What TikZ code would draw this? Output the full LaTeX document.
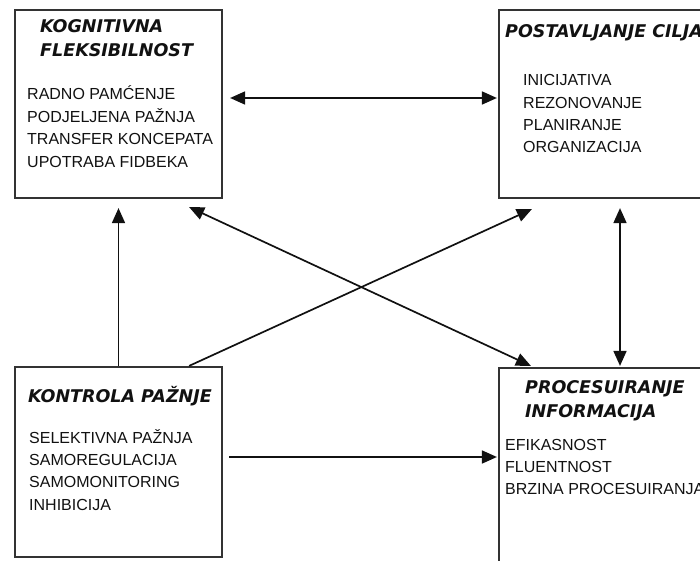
\documentclass[tikz,border=0pt]{standalone}
\usepackage{fontspec}
\setmainfont{Liberation Sans}
\newfontfamily\headfont{DejaVu Sans}
\usepackage{xcolor}
\definecolor{ink}{HTML}{111111}
\definecolor{frame}{HTML}{333333}
\usetikzlibrary{arrows.meta,calc}
\tikzset{
  box/.style={draw=frame,line width=2.2pt,minimum width=207pt,inner sep=0pt},
  head/.style={anchor=base west,inner sep=0pt,text=ink,font=\headfont\bfseries\itshape\fontsize{17.5}{20}\selectfont},
  item/.style={anchor=base west,inner sep=0pt,text=ink,font=\fontsize{16}{18}\selectfont},
  link/.style={draw=ink,line width=1.7pt,-{Triangle[length=15pt,width=13pt]}},
  both/.style={link,{Triangle[length=15pt,width=13pt]}-{Triangle[length=15pt,width=13pt]}}
}
\begin{document}
\begin{tikzpicture}[x=1pt,y=-1pt]
  \useasboundingbox (0,0) rectangle (700,561);
  % okviri
  \node[box,minimum height=188pt] (kf) at (118.5,104) {};
  \node[box,minimum height=188pt] (pc) at (602.5,104) {};
  \node[box,minimum height=190pt] (kp) at (118.5,462) {};
  \node[box,minimum height=207pt] (pi) at (602.5,471.5) {};
  % naslovi
  \node[head] (kf-h1) at (40,33) {KOGNITIVNA};
  \node[head] (kf-h2) at (40,57) {FLEKSIBILNOST};
  \node[head] (pc-h) at (505,38) {POSTAVLJANJE CILJA};
  \node[head] (kp-h) at (28,402) {KONTROLA PAŽNJE};
  \node[head] (pi-h1) at (525,393) {PROCESUIRANJE};
  \node[head] (pi-h2) at (525,417) {INFORMACIJA};
  % stavke
  \foreach \t [count=\i from 0] in {RADNO PAMĆENJE,PODJELJENA PAŽNJA,TRANSFER KONCEPATA,UPOTRABA FIDBEKA}
    \node[item] (kf-\i) at (27,{100+22.5*\i}) {\t};
  \foreach \t [count=\i from 0] in {INICIJATIVA,REZONOVANJE,PLANIRANJE,ORGANIZACIJA}
    \node[item] (pc-\i) at (523,{86+22.3*\i}) {\t};
  \foreach \t [count=\i from 0] in {SELEKTIVNA PAŽNJA,SAMOREGULACIJA,SAMOMONITORING,INHIBICIJA}
    \node[item] (kp-\i) at (29,{443+22.4*\i}) {\t};
  \foreach \t [count=\i from 0] in {EFIKASNOST,FLUENTNOST,BRZINA PROCESUIRANJA}
    \node[item] (pi-\i) at (505,{450+22*\i}) {\t};
  % strelice
  \draw[both] ([xshift=7pt,yshift=6pt]kf.east) -- ([xshift=-1pt,yshift=6pt]pc.west);
  \draw[both] ([xshift=17.5pt,yshift=-9pt]pc.south) -- ([xshift=17.5pt,yshift=1pt]pi.north);
  \draw[link] (kp.north) -- ([yshift=-9pt]kf.south);
  \draw[both] ([xshift=-34pt,yshift=-8pt]kf.south east) -- ([xshift=33pt,yshift=1pt]pi.north west);
  \draw[link] ([xshift=-34pt]kp.north east) -- ([xshift=34pt,yshift=-10pt]pc.south west);
  \draw[link] ([xshift=6pt,yshift=5pt]kp.east) -- ([xshift=-1pt,yshift=14.5pt]pi.west);
\end{tikzpicture}
\end{document}
